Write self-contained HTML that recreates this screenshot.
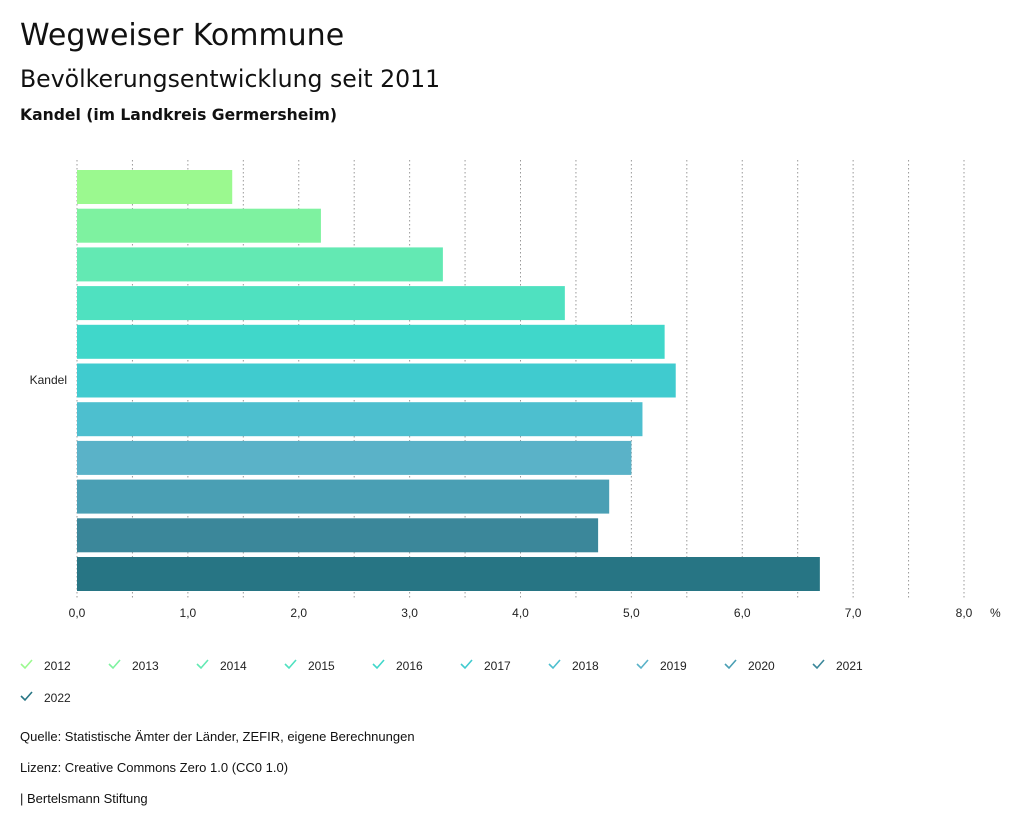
<!DOCTYPE html>
<html><head><meta charset="utf-8"><style>
body{margin:0;background:#fff;font-family:"Liberation Sans","DejaVu Sans",sans-serif;color:#111;}
.t{position:absolute;white-space:nowrap}
.d{font-family:"DejaVu Sans","Liberation Sans",sans-serif}
</style></head><body>
<div style="position:relative;width:1024px;height:831px;overflow:hidden">
<div class="t d" style="left:20px;top:18px;font-size:30px">Wegweiser Kommune</div>
<div class="t d" style="left:20px;top:65px;font-size:23.6px">Bevölkerungsentwicklung seit 2011</div>
<div class="t d" style="left:20px;top:106px;font-size:15.6px;font-weight:bold">Kandel (im Landkreis Germersheim)</div>
<svg id="chart" width="1024" height="831" style="position:absolute;left:0;top:0"></svg>
<div class="t" style="left:20px;top:729px;font-size:13px">Quelle: Statistische Ämter der Länder, ZEFIR, eigene Berechnungen</div>
<div class="t" style="left:20px;top:760px;font-size:13px">Lizenz: Creative Commons Zero 1.0 (CC0 1.0)</div>
<div class="t" style="left:20px;top:791px;font-size:13px">| Bertelsmann Stiftung</div>
</div>
<script>
const years=["2012","2013","2014","2015","2016","2017","2018","2019","2020","2021","2022"];
const values=[1.4,2.2,3.3,4.4,5.3,5.4,5.1,5.0,4.8,4.7,6.7];
const colors=["#9bf98f","#7ef2a0","#63e9b3","#4fe1c0","#40d7ca","#40cbcf","#4dbfcf","#5ab2c8","#4a9fb4","#3b879a","#277584"];
const ticks=[0,1,2,3,4,5,6,7,8];
const NS="http://www.w3.org/2000/svg";
const svg=document.getElementById('chart');
const x0=77,xs=(964-77)/8,top0=170,step=38.7,bh=34;
const X=v=>x0+v*xs;
function el(t,a){const e=document.createElementNS(NS,t);for(const k in a)e.setAttribute(k,a[k]);svg.appendChild(e);return e;}
for(let i=0;i<=16;i++){const g=el('line',{x1:X(i/2),x2:X(i/2),y1:160,y2:599,stroke:'#999','stroke-dasharray':'1.5,2.5','stroke-width':1});

}
values.forEach((v,i)=>{const r=el('rect',{x:x0,y:top0+i*step,width:X(v)-x0,height:bh,fill:colors[i]});

});
ticks.forEach(t=>{const tx=el('text',{x:X(t),y:617,'text-anchor':'middle','font-size':12,fill:'#222'});tx.textContent=t.toFixed(1).replace('.',',');

});
const pu=el('text',{x:990,y:617,'font-size':12,fill:'#222'});pu.textContent='%';


const cl=el('text',{x:67,y:384,'text-anchor':'end','font-size':12,fill:'#222'});cl.textContent='Kandel';


years.forEach((y,i)=>{const row=i<10?0:1,cx=i<10?20+i*88:20,cy=row?697:665;
const g=document.createElementNS(NS,'g');svg.appendChild(g);


const p=document.createElementNS(NS,'path');p.setAttribute('d',`M${cx+1} ${cy-1}l4 4l7-8`);p.setAttribute('fill','none');p.setAttribute('stroke',colors[i]);p.setAttribute('stroke-width',1.6);g.appendChild(p);
const t=document.createElementNS(NS,'text');t.setAttribute('x',cx+24);t.setAttribute('y',cy+5);t.setAttribute('font-size',12);t.setAttribute('fill','#222');t.textContent=y;g.appendChild(t);});
</script>
</body></html>
